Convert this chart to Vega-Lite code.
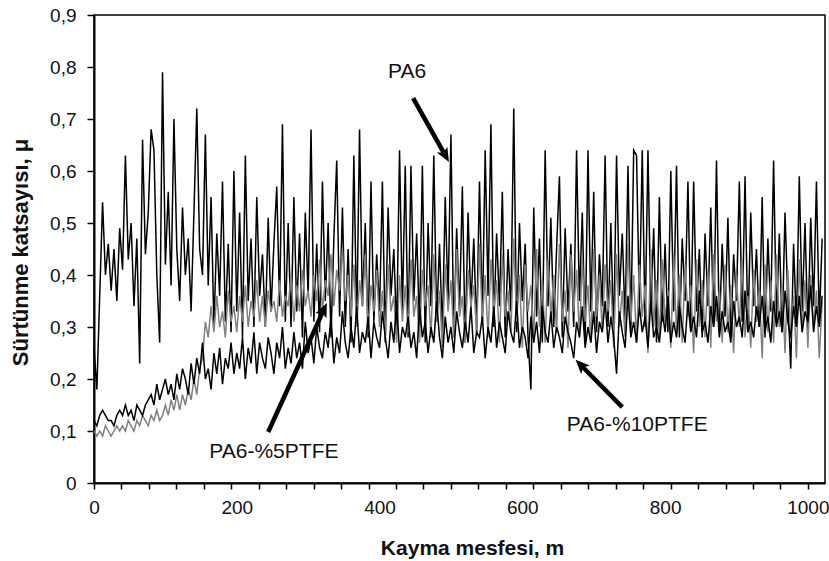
{
"$schema": "https://vega.github.io/schema/vega-lite/v6.json",
"width": 731, "height": 468,
"autosize": {"type": "none"},
"padding": {"left": 94, "top": 15, "right": 4, "bottom": 78},
"background": "white",
"config": {
 "view": {"stroke": "black", "strokeWidth": 1.5},
 "axis": {"grid": false, "domainColor": "black", "domainWidth": 2, "tickColor": "black", "tickWidth": 1.5, "labelFont": "Liberation Sans", "labelFontSize": 19, "labelColor": "#111", "titleFont": "Liberation Sans", "titleFontWeight": "bold", "titleColor": "#111"}
},
"datasets": {
"series": [
{"x":0,"a":0.26,"b":0.12,"c":0.10},{"x":4,"a":0.18,"b":0.11,"c":0.09},{"x":8,"a":0.36,"b":0.13,"c":0.10},{"x":12,"a":0.54,"b":0.14,"c":0.09},{"x":16,"a":0.40,"b":0.13,"c":0.11},{"x":20,"a":0.46,"b":0.12,"c":0.10},{"x":24,"a":0.37,"b":0.12,"c":0.09},{"x":28,"a":0.45,"b":0.11,"c":0.10},{"x":32,"a":0.35,"b":0.13,"c":0.11},{"x":36,"a":0.49,"b":0.14,"c":0.10},
{"x":40,"a":0.41,"b":0.13,"c":0.11},{"x":44,"a":0.63,"b":0.15,"c":0.10},{"x":48,"a":0.43,"b":0.13,"c":0.12},{"x":52,"a":0.50,"b":0.14,"c":0.11},{"x":56,"a":0.34,"b":0.12,"c":0.10},{"x":60,"a":0.47,"b":0.15,"c":0.12},{"x":64,"a":0.23,"b":0.14,"c":0.11},{"x":68,"a":0.66,"b":0.13,"c":0.13},{"x":72,"a":0.44,"b":0.15,"c":0.12},{"x":76,"a":0.52,"b":0.16,"c":0.11},
{"x":80,"a":0.68,"b":0.17,"c":0.13},{"x":84,"a":0.64,"b":0.15,"c":0.12},{"x":88,"a":0.40,"b":0.19,"c":0.14},{"x":92,"a":0.27,"b":0.16,"c":0.12},{"x":96,"a":0.79,"b":0.18,"c":0.13},{"x":100,"a":0.42,"b":0.20,"c":0.15},{"x":104,"a":0.56,"b":0.17,"c":0.13},{"x":108,"a":0.38,"b":0.19,"c":0.16},{"x":112,"a":0.70,"b":0.16,"c":0.14},{"x":116,"a":0.45,"b":0.21,"c":0.17},
{"x":120,"a":0.35,"b":0.18,"c":0.14},{"x":124,"a":0.53,"b":0.22,"c":0.17},{"x":128,"a":0.40,"b":0.20,"c":0.15},{"x":132,"a":0.47,"b":0.17,"c":0.18},{"x":136,"a":0.33,"b":0.23,"c":0.16},{"x":140,"a":0.52,"b":0.19,"c":0.20},{"x":144,"a":0.72,"b":0.24,"c":0.17},{"x":148,"a":0.45,"b":0.21,"c":0.22},{"x":152,"a":0.40,"b":0.27,"c":0.24},{"x":156,"a":0.67,"b":0.20,"c":0.31},
{"x":160,"a":0.38,"b":0.22,"c":0.28},{"x":164,"a":0.55,"b":0.18,"c":0.34},{"x":168,"a":0.30,"b":0.25,"c":0.29},{"x":172,"a":0.48,"b":0.21,"c":0.36},{"x":176,"a":0.36,"b":0.26,"c":0.30},{"x":180,"a":0.58,"b":0.19,"c":0.33},{"x":184,"a":0.31,"b":0.24,"c":0.28},{"x":188,"a":0.46,"b":0.22,"c":0.37},{"x":192,"a":0.29,"b":0.27,"c":0.31},{"x":196,"a":0.60,"b":0.21,"c":0.34},
{"x":200,"a":0.33,"b":0.25,"c":0.29},{"x":204,"a":0.52,"b":0.22,"c":0.36},{"x":208,"a":0.28,"b":0.28,"c":0.31},{"x":212,"a":0.63,"b":0.20,"c":0.38},{"x":216,"a":0.35,"b":0.26,"c":0.30},{"x":220,"a":0.47,"b":0.23,"c":0.35},{"x":224,"a":0.30,"b":0.29,"c":0.32},{"x":228,"a":0.55,"b":0.21,"c":0.39},{"x":232,"a":0.36,"b":0.27,"c":0.31},{"x":236,"a":0.44,"b":0.24,"c":0.36},
{"x":240,"a":0.30,"b":0.22,"c":0.30},{"x":244,"a":0.51,"b":0.28,"c":0.37},{"x":248,"a":0.33,"b":0.25,"c":0.33},{"x":252,"a":0.46,"b":0.21,"c":0.35},{"x":256,"a":0.57,"b":0.27,"c":0.31},{"x":260,"a":0.34,"b":0.24,"c":0.39},{"x":264,"a":0.69,"b":0.30,"c":0.32},{"x":268,"a":0.31,"b":0.22,"c":0.36},{"x":272,"a":0.50,"b":0.26,"c":0.34},{"x":276,"a":0.30,"b":0.23,"c":0.40},
{"x":280,"a":0.55,"b":0.29,"c":0.31},{"x":284,"a":0.33,"b":0.24,"c":0.38},{"x":288,"a":0.48,"b":0.27,"c":0.33},{"x":292,"a":0.28,"b":0.22,"c":0.41},{"x":296,"a":0.52,"b":0.31,"c":0.34},{"x":300,"a":0.36,"b":0.25,"c":0.37},{"x":304,"a":0.68,"b":0.28,"c":0.32},{"x":308,"a":0.31,"b":0.23,"c":0.40},{"x":312,"a":0.46,"b":0.30,"c":0.35},{"x":316,"a":0.29,"b":0.26,"c":0.43},
{"x":320,"a":0.58,"b":0.24,"c":0.33},{"x":324,"a":0.35,"b":0.29,"c":0.39},{"x":328,"a":0.50,"b":0.26,"c":0.36},{"x":332,"a":0.28,"b":0.32,"c":0.44},{"x":336,"a":0.47,"b":0.23,"c":0.34},{"x":340,"a":0.62,"b":0.28,"c":0.41},{"x":344,"a":0.32,"b":0.25,"c":0.37},{"x":348,"a":0.53,"b":0.33,"c":0.45},{"x":352,"a":0.30,"b":0.27,"c":0.35},{"x":356,"a":0.45,"b":0.24,"c":0.40},
{"x":360,"a":0.27,"b":0.30,"c":0.32},{"x":364,"a":0.63,"b":0.26,"c":0.42},{"x":368,"a":0.30,"b":0.34,"c":0.30},{"x":372,"a":0.68,"b":0.25,"c":0.39},{"x":376,"a":0.34,"b":0.29,"c":0.34},{"x":380,"a":0.50,"b":0.27,"c":0.44},{"x":384,"a":0.28,"b":0.32,"c":0.29},{"x":388,"a":0.58,"b":0.24,"c":0.38},{"x":392,"a":0.31,"b":0.31,"c":0.33},{"x":396,"a":0.44,"b":0.28,"c":0.41},
{"x":400,"a":0.33,"b":0.26,"c":0.30},{"x":404,"a":0.58,"b":0.33,"c":0.37},{"x":408,"a":0.27,"b":0.28,"c":0.28},{"x":412,"a":0.53,"b":0.24,"c":0.42},{"x":416,"a":0.36,"b":0.31,"c":0.33},{"x":420,"a":0.45,"b":0.27,"c":0.36},{"x":424,"a":0.29,"b":0.35,"c":0.27},{"x":428,"a":0.64,"b":0.25,"c":0.40},{"x":432,"a":0.33,"b":0.30,"c":0.31},{"x":436,"a":0.61,"b":0.28,"c":0.38},
{"x":440,"a":0.28,"b":0.32,"c":0.29},{"x":444,"a":0.61,"b":0.26,"c":0.43},{"x":448,"a":0.35,"b":0.29,"c":0.32},{"x":452,"a":0.48,"b":0.24,"c":0.36},{"x":456,"a":0.30,"b":0.34,"c":0.27},{"x":460,"a":0.61,"b":0.28,"c":0.41},{"x":464,"a":0.27,"b":0.31,"c":0.34},{"x":468,"a":0.50,"b":0.25,"c":0.38},{"x":472,"a":0.34,"b":0.30,"c":0.28},{"x":476,"a":0.63,"b":0.27,"c":0.44},
{"x":480,"a":0.31,"b":0.35,"c":0.31},{"x":484,"a":0.46,"b":0.28,"c":0.37},{"x":488,"a":0.29,"b":0.24,"c":0.26},{"x":492,"a":0.55,"b":0.32,"c":0.42},{"x":496,"a":0.35,"b":0.27,"c":0.33},{"x":500,"a":0.67,"b":0.30,"c":0.39},{"x":504,"a":0.28,"b":0.25,"c":0.28},{"x":508,"a":0.49,"b":0.33,"c":0.45},{"x":512,"a":0.33,"b":0.29,"c":0.32},{"x":516,"a":0.57,"b":0.26,"c":0.36},
{"x":520,"a":0.27,"b":0.31,"c":0.27},{"x":524,"a":0.52,"b":0.27,"c":0.41},{"x":528,"a":0.34,"b":0.34,"c":0.34},{"x":532,"a":0.47,"b":0.25,"c":0.38},{"x":536,"a":0.29,"b":0.29,"c":0.29},{"x":540,"a":0.58,"b":0.28,"c":0.46},{"x":544,"a":0.31,"b":0.32,"c":0.31},{"x":548,"a":0.64,"b":0.24,"c":0.40},{"x":552,"a":0.36,"b":0.30,"c":0.28},{"x":556,"a":0.69,"b":0.27,"c":0.43},
{"x":560,"a":0.30,"b":0.34,"c":0.33},{"x":564,"a":0.48,"b":0.26,"c":0.39},{"x":568,"a":0.34,"b":0.31,"c":0.27},{"x":572,"a":0.56,"b":0.28,"c":0.44},{"x":576,"a":0.28,"b":0.25,"c":0.32},{"x":580,"a":0.45,"b":0.33,"c":0.37},{"x":584,"a":0.33,"b":0.29,"c":0.29},{"x":588,"a":0.72,"b":0.27,"c":0.47},{"x":592,"a":0.29,"b":0.35,"c":0.31},{"x":596,"a":0.50,"b":0.26,"c":0.40},
{"x":600,"a":0.35,"b":0.30,"c":0.26},{"x":604,"a":0.46,"b":0.28,"c":0.42},{"x":608,"a":0.28,"b":0.24,"c":0.33},{"x":612,"a":0.18,"b":0.32,"c":0.38},{"x":616,"a":0.53,"b":0.27,"c":0.28},{"x":620,"a":0.32,"b":0.31,"c":0.45},{"x":624,"a":0.47,"b":0.25,"c":0.30},{"x":628,"a":0.27,"b":0.34,"c":0.39},{"x":632,"a":0.64,"b":0.29,"c":0.27},{"x":636,"a":0.34,"b":0.27,"c":0.43},
{"x":640,"a":0.51,"b":0.33,"c":0.32},{"x":644,"a":0.30,"b":0.26,"c":0.40},{"x":648,"a":0.45,"b":0.30,"c":0.29},{"x":652,"a":0.59,"b":0.28,"c":0.46},{"x":656,"a":0.28,"b":0.25,"c":0.31},{"x":660,"a":0.49,"b":0.32,"c":0.37},{"x":664,"a":0.33,"b":0.29,"c":0.26},{"x":668,"a":0.46,"b":0.27,"c":0.44},{"x":672,"a":0.30,"b":0.24,"c":0.33},{"x":676,"a":0.64,"b":0.31,"c":0.41},
{"x":680,"a":0.35,"b":0.28,"c":0.28},{"x":684,"a":0.52,"b":0.34,"c":0.43},{"x":688,"a":0.27,"b":0.26,"c":0.31},{"x":692,"a":0.64,"b":0.30,"c":0.38},{"x":696,"a":0.33,"b":0.27,"c":0.27},{"x":700,"a":0.56,"b":0.33,"c":0.45},{"x":704,"a":0.29,"b":0.25,"c":0.32},{"x":708,"a":0.44,"b":0.31,"c":0.40},{"x":712,"a":0.34,"b":0.29,"c":0.29},{"x":716,"a":0.63,"b":0.35,"c":0.42},
{"x":720,"a":0.30,"b":0.27,"c":0.33},{"x":724,"a":0.50,"b":0.32,"c":0.39},{"x":728,"a":0.28,"b":0.28,"c":0.26},{"x":732,"a":0.63,"b":0.21,"c":0.44},{"x":736,"a":0.36,"b":0.33,"c":0.30},{"x":740,"a":0.48,"b":0.29,"c":0.37},{"x":744,"a":0.31,"b":0.26,"c":0.28},{"x":748,"a":0.61,"b":0.36,"c":0.46},{"x":752,"a":0.29,"b":0.28,"c":0.31},{"x":756,"a":0.64,"b":0.31,"c":0.40},
{"x":760,"a":0.63,"b":0.27,"c":0.27},{"x":764,"a":0.34,"b":0.34,"c":0.42},{"x":768,"a":0.64,"b":0.29,"c":0.32},{"x":772,"a":0.30,"b":0.32,"c":0.38},{"x":776,"a":0.64,"b":0.26,"c":0.25},{"x":780,"a":0.33,"b":0.35,"c":0.45},{"x":784,"a":0.49,"b":0.28,"c":0.30},{"x":788,"a":0.27,"b":0.30,"c":0.39},{"x":792,"a":0.55,"b":0.27,"c":0.28},{"x":796,"a":0.31,"b":0.33,"c":0.43},
{"x":800,"a":0.46,"b":0.29,"c":0.31},{"x":804,"a":0.29,"b":0.36,"c":0.37},{"x":808,"a":0.60,"b":0.27,"c":0.26},{"x":812,"a":0.33,"b":0.31,"c":0.44},{"x":816,"a":0.61,"b":0.28,"c":0.29},{"x":820,"a":0.28,"b":0.34,"c":0.40},{"x":824,"a":0.47,"b":0.30,"c":0.27},{"x":828,"a":0.35,"b":0.27,"c":0.42},{"x":832,"a":0.58,"b":0.35,"c":0.32},{"x":836,"a":0.30,"b":0.29,"c":0.38},
{"x":840,"a":0.58,"b":0.32,"c":0.25},{"x":844,"a":0.33,"b":0.28,"c":0.43},{"x":848,"a":0.45,"b":0.37,"c":0.30},{"x":852,"a":0.28,"b":0.29,"c":0.39},{"x":856,"a":0.48,"b":0.31,"c":0.28},{"x":860,"a":0.34,"b":0.27,"c":0.41},{"x":864,"a":0.53,"b":0.34,"c":0.26},{"x":868,"a":0.30,"b":0.30,"c":0.44},{"x":872,"a":0.62,"b":0.36,"c":0.31},{"x":876,"a":0.29,"b":0.28,"c":0.37},
{"x":880,"a":0.46,"b":0.33,"c":0.27},{"x":884,"a":0.32,"b":0.29,"c":0.42},{"x":888,"a":0.51,"b":0.31,"c":0.29},{"x":892,"a":0.28,"b":0.27,"c":0.38},{"x":896,"a":0.44,"b":0.35,"c":0.25},{"x":900,"a":0.35,"b":0.30,"c":0.40},{"x":904,"a":0.58,"b":0.32,"c":0.30},{"x":908,"a":0.31,"b":0.28,"c":0.43},{"x":912,"a":0.59,"b":0.37,"c":0.28},{"x":916,"a":0.29,"b":0.29,"c":0.36},
{"x":920,"a":0.52,"b":0.31,"c":0.26},{"x":924,"a":0.34,"b":0.28,"c":0.41},{"x":928,"a":0.45,"b":0.34,"c":0.31},{"x":932,"a":0.30,"b":0.30,"c":0.37},{"x":936,"a":0.55,"b":0.36,"c":0.24},{"x":940,"a":0.28,"b":0.29,"c":0.42},{"x":944,"a":0.47,"b":0.32,"c":0.29},{"x":948,"a":0.33,"b":0.27,"c":0.39},{"x":952,"a":0.62,"b":0.35,"c":0.27},{"x":956,"a":0.31,"b":0.30,"c":0.44},
{"x":960,"a":0.48,"b":0.33,"c":0.30},{"x":964,"a":0.29,"b":0.29,"c":0.38},{"x":968,"a":0.52,"b":0.37,"c":0.25},{"x":972,"a":0.35,"b":0.31,"c":0.41},{"x":976,"a":0.22,"b":0.28,"c":0.28},{"x":980,"a":0.46,"b":0.34,"c":0.36},{"x":984,"a":0.30,"b":0.30,"c":0.24},{"x":988,"a":0.59,"b":0.36,"c":0.43},{"x":992,"a":0.33,"b":0.29,"c":0.29},{"x":996,"a":0.50,"b":0.33,"c":0.39},
{"x":1000,"a":0.29,"b":0.31,"c":0.26},{"x":1004,"a":0.51,"b":0.38,"c":0.40},{"x":1008,"a":0.34,"b":0.29,"c":0.30},{"x":1012,"a":0.58,"b":0.34,"c":0.37},{"x":1016,"a":0.31,"b":0.30,"c":0.24},{"x":1020,"a":0.47,"b":0.36,"c":0.35}
],
"arrows": [
{"name":"PA6","x":447,"y":0.740,"x2":491.7,"y2":0.631},
{"name":"PA6-%5PTFE","x":244,"y":0.098,"x2":321.5,"y2":0.332},
{"name":"PA6-%10PTFE","x":740,"y":0.146,"x2":682.5,"y2":0.226}
],
"heads": [
{"name":"PA6","x":491.7,"y":0.631},
{"name":"PA6-%5PTFE","x":321.5,"y":0.332},
{"name":"PA6-%10PTFE","x":682.5,"y":0.226}
],
"labels": [
{"text":"PA6","x":438.5,"y":0.790},
{"text":"PA6-%5PTFE","x":252,"y":0.0596},
{"text":"PA6-%10PTFE","x":761,"y":0.1115}
]
},
"encoding": {
 "x": {"field": "x", "type": "quantitative",
  "scale": {"domain": [0, 1024], "nice": false, "zero": false},
  "axis": {"title": "Kayma mesfesi, m", "titleFontSize": 21, "titleX": 378, "titleY": 65, "titleBaseline": "middle", "titleAlign": "center",
   "values": [0,38.46,76.92,115.38,153.85,192.31,200,230.77,269.23,307.69,346.15,384.62,400,423.08,461.54,500,538.46,576.92,600,615.38,653.85,692.31,730.77,769.23,800,807.69,846.15,884.62,923.08,961.54,1000],
   "format": "d", "labelExpr": "datum.value % 200 == 0 ? datum.label : ''",
   "labelFlush": false, "labelOverlap": false, "labelBound": false, "tickSize": 6, "labelPadding": 9,
   "tickOpacity": {"condition": {"test": "datum.value == 200 || datum.value == 400 || datum.value == 600 || datum.value == 800", "value": 0}, "value": 1}}},
 "y": {"field": "y", "type": "quantitative", "scale": {"domain": [0, 0.9], "nice": false},
   "axis": {"title": "Sürtünme katsayısı, μ", "titleFontSize": 22, "titleX": -74, "titleY": 237, "titleBaseline": "middle", "titleAlign": "center", "titleAngle": -90,
    "values": [0,0.1,0.2,0.3,0.4,0.5,0.6,0.7,0.8,0.9], "labelExpr": "datum.value == 0 ? '0' : replace(format(datum.value, '.1f'), '.', ',')",
    "tickSize": 7, "labelPadding": 11, "labelFlush": false, "labelOverlap": false}}
},
"layer": [
 {"data": {"name": "series"}, "transform": [{"fold": ["a"], "as": ["s", "y"]}],
  "mark": {"type": "line", "color": "black", "strokeWidth": 1.5}},
 {"data": {"name": "series"}, "transform": [{"fold": ["c"], "as": ["s", "y"]}],
  "mark": {"type": "line", "color": "#808080", "strokeWidth": 1.5}},
 {"data": {"name": "series"}, "transform": [{"fold": ["b"], "as": ["s", "y"]}],
  "mark": {"type": "line", "color": "black", "strokeWidth": 1.5}},
 {"data": {"name": "arrows"}, "mark": {"type": "rule", "color": "black", "strokeWidth": 4.5},
  "encoding": {"x2": {"field": "x2"}, "y2": {"field": "y2"}}},
 {"data": {"name": "heads"}, "transform": [{"filter": "datum.name == 'PA6'"}],
  "mark": {"type": "point", "shape": "M0,-1L0.75,0.75L0,0.35L-0.75,0.75Z", "filled": true, "color": "black", "opacity": 1, "size": 260, "angle": 150.6}},
 {"data": {"name": "heads"}, "transform": [{"filter": "datum.name == 'PA6-%5PTFE'"}],
  "mark": {"type": "point", "shape": "M0,-1L0.75,0.75L0,0.35L-0.75,0.75Z", "filled": true, "color": "black", "opacity": 1, "size": 260, "angle": 24.5}},
 {"data": {"name": "heads"}, "transform": [{"filter": "datum.name == 'PA6-%10PTFE'"}],
  "mark": {"type": "point", "shape": "M0,-1L0.75,0.75L0,0.35L-0.75,0.75Z", "filled": true, "color": "black", "opacity": 1, "size": 260, "angle": 315.4}},
 {"data": {"name": "labels"}, "mark": {"type": "text", "font": "Liberation Sans", "fontSize": 21, "color": "#111", "align": "center", "baseline": "middle"},
  "encoding": {"text": {"field": "text"}}}
]
}
